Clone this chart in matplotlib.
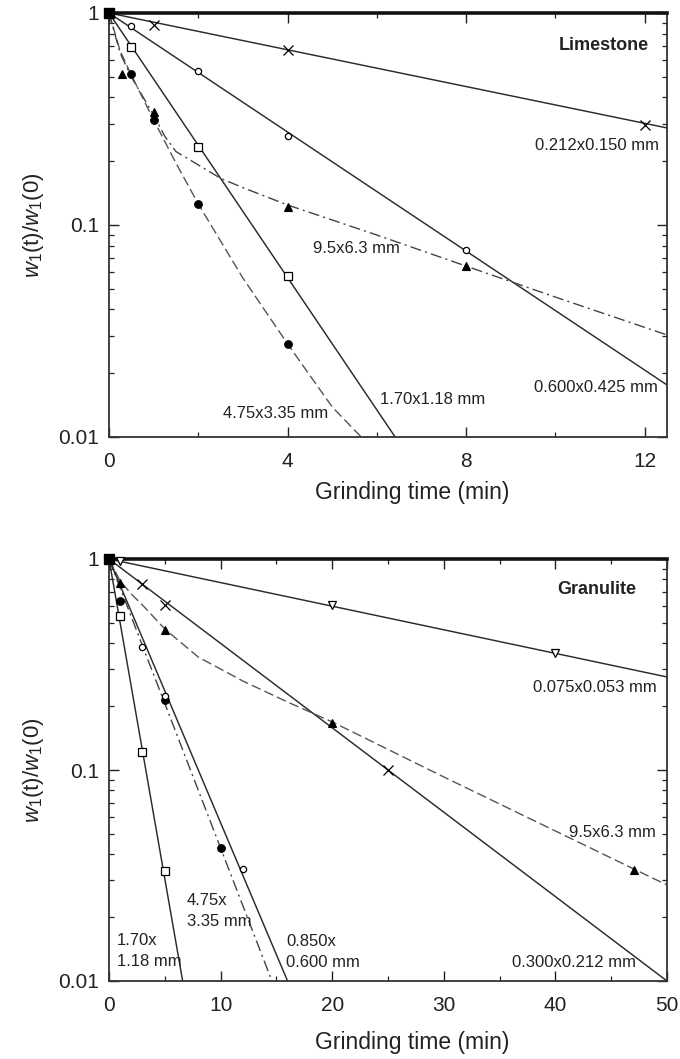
import matplotlib
matplotlib.use("Agg")
import matplotlib.pyplot as plt
from matplotlib.ticker import FixedLocator, LogLocator, NullFormatter, FixedFormatter

plt.rcParams['font.family'] = ['Liberation Sans', 'DejaVu Sans']
plt.rcParams['mathtext.fontset'] = 'custom'
plt.rcParams['mathtext.rm'] = 'Liberation Sans'
plt.rcParams['mathtext.it'] = 'Liberation Sans:italic'

# ---------------- Limestone (top) ----------------
lime_t_0212 = [0, 1, 4, 12]
lime_w_0212 = [1, 0.878, 0.669, 0.296]
lime_fit_t_0212 = [0, 12.5]
lime_fit_w_0212 = [1, 0.287]

lime_t_0600 = [0, 0.5, 2, 4, 8]
lime_w_0600 = [1, 0.868, 0.533, 0.263, 0.0761]
lime_fit_t_0600 = [0, 12.5]
lime_fit_w_0600 = [1, 0.0176]

lime_t_170 = [0, 0.5, 2, 4]
lime_w_170 = [1, 0.691, 0.233, 0.0575]
lime_fit_t_170 = [0, 6.41]
lime_fit_w_170 = [1, 0.01]

lime_t_475 = [0, 0.5, 1, 2, 4]
lime_w_475 = [1, 0.515, 0.313, 0.126, 0.0275]
lime_fit_t_475 = [0, 0.25, 0.5, 1, 1.5, 2, 3, 4, 5, 5.65]
lime_fit_w_475 = [1, 0.662, 0.510, 0.313, 0.196, 0.1256, 0.0562, 0.0275, 0.01386, 0.01]

lime_t_95 = [0, 0.3, 1, 4, 8]
lime_w_95 = [1, 0.515, 0.341, 0.122, 0.064]
lime_fit_t_95 = [0, 0.25, 0.5, 1, 1.25, 1.5, 2, 2.5, 3, 4, 5, 6, 8, 10, 12.5]
lime_fit_w_95 = [1, 0.647, 0.499, 0.330, 0.262, 0.222, 0.192, 0.166, 0.150,
                 0.1243, 0.1056, 0.0897, 0.0640, 0.0457, 0.0303]

# ---------------- Granulite (bottom) ----------------
gran_t_0075 = [0, 1, 20, 40]
gran_w_0075 = [1, 0.975, 0.605, 0.358]
gran_fit_t_0075 = [0, 50]
gran_fit_w_0075 = [1, 0.276]

gran_t_0300 = [0, 3, 5, 25]
gran_w_0300 = [1, 0.76, 0.605, 0.1]
gran_fit_t_0300 = [0, 50]
gran_fit_w_0300 = [1, 0.01]

gran_t_95 = [0, 1, 5, 20, 47]
gran_w_95 = [1, 0.77, 0.46, 0.167, 0.0336]
gran_fit_t_95 = [0, 1, 2, 3, 5, 8, 12, 16, 20, 30, 40, 50]
gran_fit_w_95 = [1, 0.786, 0.682, 0.605, 0.466, 0.343, 0.264, 0.210, 0.169,
                 0.0927, 0.0514, 0.0285]

gran_t_170 = [0, 1, 3, 5]
gran_w_170 = [1, 0.537, 0.122, 0.0332]
gran_fit_t_170 = [0, 6.6]
gran_fit_w_170 = [1, 0.01]

gran_t_475 = [0, 1, 5, 10]
gran_w_475 = [1, 0.633, 0.215, 0.0426]
gran_fit_t_475 = [0, 14.6]
gran_fit_w_475 = [1, 0.01]

gran_t_0850 = [0, 3, 5, 12]
gran_w_0850 = [1, 0.383, 0.225, 0.0339]
gran_fit_t_0850 = [0, 16.0]
gran_fit_w_0850 = [1, 0.01]

W, H = 680, 1059
fig = plt.figure(figsize=(W / 100, H / 100), dpi=100)

def px_axes(left, top, right, bottom):
    return fig.add_axes([left / W, 1 - bottom / H, (right - left) / W, (bottom - top) / H])

ax1 = px_axes(109, 13, 667, 437)
ax2 = px_axes(109, 559, 667, 981)

SOLID = dict(color='#2a2a2a', lw=1.05, ls='-')
DASH = dict(color='#555555', lw=1.0, ls=(0, (7, 3)))
DASHDOT = dict(color='#444444', lw=1.0, ls=(0, (8, 3, 1.5, 3)))

def markers(ax, t, w, m, ms, filled):
    if filled:
        ax.plot(t, w, ls='none', marker=m, ms=ms, mfc='black', mec='black', mew=0.8, clip_on=False, zorder=5)
    else:
        ax.plot(t, w, ls='none', marker=m, ms=ms, mfc='white', mec='black', mew=0.9, clip_on=False, zorder=5)

# top panel
ax1.plot(lime_fit_t_0212, lime_fit_w_0212, **SOLID)
ax1.plot(lime_fit_t_0600, lime_fit_w_0600, **SOLID)
ax1.plot(lime_fit_t_170, lime_fit_w_170, **SOLID)
ax1.plot(lime_fit_t_475, lime_fit_w_475, **DASH)
ax1.plot(lime_fit_t_95, lime_fit_w_95, **DASHDOT)
markers(ax1, lime_t_0212, lime_w_0212, 'x', 7, False)
markers(ax1, lime_t_0600, lime_w_0600, 'o', 4.5, False)
markers(ax1, lime_t_170, lime_w_170, 's', 5.5, False)
markers(ax1, lime_t_475, lime_w_475, 'o', 5.5, True)
markers(ax1, lime_t_95, lime_w_95, '^', 5.5, True)
ax1.plot([0], [1], ls='none', marker='s', ms=7, color='black', clip_on=False, zorder=6)

# bottom panel
ax2.plot(gran_fit_t_0075, gran_fit_w_0075, **SOLID)
ax2.plot(gran_fit_t_0300, gran_fit_w_0300, **SOLID)
ax2.plot(gran_fit_t_95, gran_fit_w_95, **DASH)
ax2.plot(gran_fit_t_170, gran_fit_w_170, **SOLID)
ax2.plot(gran_fit_t_475, gran_fit_w_475, **DASHDOT)
ax2.plot(gran_fit_t_0850, gran_fit_w_0850, **SOLID)
markers(ax2, gran_t_0075, gran_w_0075, 'v', 5.5, False)
markers(ax2, gran_t_0300, gran_w_0300, 'x', 7, False)
markers(ax2, gran_t_95, gran_w_95, '^', 5.5, True)
markers(ax2, gran_t_170, gran_w_170, 's', 5.5, False)
markers(ax2, gran_t_475, gran_w_475, 'o', 5.5, True)
markers(ax2, gran_t_0850, gran_w_0850, 'o', 4.5, False)
ax2.plot([0], [1], ls='none', marker='s', ms=7, color='black', clip_on=False, zorder=6)

ylab = r'$\mathit{w}_1\mathrm{(t)/}\mathit{w}_1\mathrm{(0)}$'

def style(ax, xmax, major, minor, labels_x):
    ax.set_yscale('log')
    ax.set_ylim(0.01, 1)
    ax.set_xlim(0, xmax)
    ax.xaxis.set_major_locator(FixedLocator(major))
    ax.xaxis.set_minor_locator(FixedLocator(minor))
    ax.set_xticklabels(labels_x)
    ax.yaxis.set_major_locator(FixedLocator([0.01, 0.1, 1]))
    ax.yaxis.set_major_formatter(FixedFormatter(['0.01', '0.1', '1']))
    ax.yaxis.set_minor_locator(LogLocator(base=10, subs=[2, 3, 4, 5, 6, 7, 8, 9]))
    ax.yaxis.set_minor_formatter(NullFormatter())
    ax.tick_params(which='both', direction='in', top=True, right=True, labelsize=15, colors='#222222')
    ax.tick_params(which='major', length=7, width=1.0)
    ax.tick_params(axis='x', which='major', pad=11)
    ax.tick_params(axis='y', which='major', pad=7)
    ax.tick_params(which='minor', length=3.5, width=0.9)
    for s in ['left', 'right', 'bottom']:
        ax.spines[s].set_linewidth(1.3)
        ax.spines[s].set_color('#333333')
    ax.spines['top'].set_linewidth(2.6)
    ax.spines['top'].set_color('#111111')
    ax.set_xlabel('Grinding time (min)', fontsize=16.5, color='#222222')
    ax.set_ylabel(ylab, fontsize=16, color='#222222')
    ax.yaxis.set_label_coords(-0.113, 0.5)

style(ax1, 12.5, [0, 4, 8, 12], [2, 6, 10], ['0', '4', '8', '12'])
style(ax2, 50, [0, 10, 20, 30, 40, 50], [5, 15, 25, 35, 45], ['0', '10', '20', '30', '40', '50'])
ax1.xaxis.set_label_coords((412 - 109) / 558, -44 / 424)
ax2.xaxis.set_label_coords((412 - 109) / 558, -50 / 422)

fs = 12
tc = '#222222'
# top annotations
ax1.text(12.09, 0.706, 'Limestone', fontsize=13, fontweight='bold', ha='right', va='center', color=tc)
ax1.text(12.31, 0.238, '0.212x0.150 mm', fontsize=fs, ha='right', va='center', color=tc)
ax1.text(4.56, 0.0776, '9.5x6.3 mm', fontsize=fs, ha='left', va='center', color=tc)
ax1.text(2.55, 0.0129, '4.75x3.35 mm', fontsize=fs, ha='left', va='center', color=tc)
ax1.text(6.08, 0.0151, '1.70x1.18 mm', fontsize=fs, ha='left', va='center', color=tc)
ax1.text(12.29, 0.0172, '0.600x0.425 mm', fontsize=fs, ha='right', va='center', color=tc)

# bottom annotations
ax2.text(47.2, 0.713, 'Granulite', fontsize=13, fontweight='bold', ha='right', va='center', color=tc)
ax2.text(49.1, 0.247, '0.075x0.053 mm', fontsize=fs, ha='right', va='center', color=tc)
ax2.text(49.0, 0.0508, '9.5x6.3 mm', fontsize=fs, ha='right', va='center', color=tc)
ax2.text(36.1, 0.0122, '0.300x0.212 mm', fontsize=fs, ha='left', va='center', color=tc)
ax2.text(0.7, 0.0139, '1.70x\n1.18 mm', fontsize=fs, ha='left', va='center', color=tc, linespacing=1.5)
ax2.text(6.96, 0.0215, '4.75x\n3.35 mm', fontsize=fs, ha='left', va='center', color=tc, linespacing=1.5)
ax2.text(15.9, 0.0137, '0.850x\n0.600 mm', fontsize=fs, ha='left', va='center', color=tc, linespacing=1.5)

fig.savefig('out.png', dpi=100, facecolor='white')
